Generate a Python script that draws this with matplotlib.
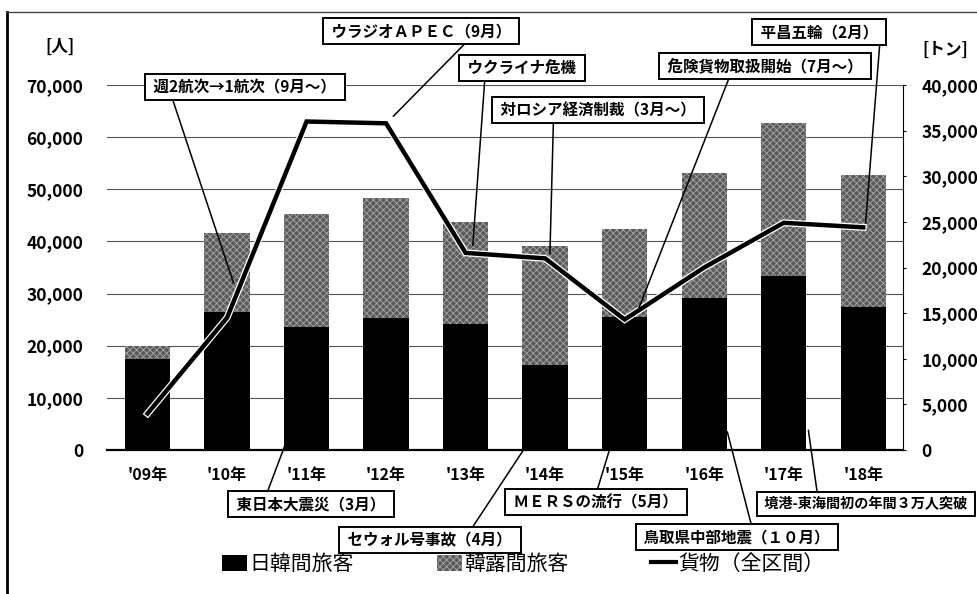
import matplotlib.pyplot as plt
import matplotlib.patheffects as pe
from matplotlib.patches import Patch
from matplotlib.lines import Line2D
from matplotlib.ticker import FuncFormatter

plt.rcParams['font.family'] = ['Noto Sans CJK JP', 'DejaVu Sans']
plt.rcParams['font.weight'] = 'bold'
plt.rcParams['hatch.linewidth'] = 0.6

years = ["'09年", "'10年", "'11年", "'12年", "'13年",
         "'14年", "'15年", "'16年", "'17年", "'18年"]
# 日韓間旅客 / 韓露間旅客 [人]
jk_pax = [17500, 26500, 23500, 25400, 24200, 16300, 25500, 29200, 33300, 27500]
kr_pax = [2500, 15200, 21800, 23000, 19600, 22900, 16800, 23900, 29500, 25200]
# 貨物（全区間） [トン]
cargo = [4000, 14500, 36000, 35800, 21600, 21000, 14300, 20000, 24900, 24400]

# callouts: text, box centre (px), leader start on box, leader end (year idx, 人), font size
events = [
    ("週2航次→1航次（9月～）", (245, 87), (0.11, 0), (1.08, 32100), 11.2),
    ("ウラジオＡＰＥＣ（9月）", (421, 31), (0.76, 0), (3.09, 64000), 11.2),
    ("ウクライナ危機", (522, 68), (0.18, 0), (4.09, 39200), 11.2),
    ("対ロシア経済制裁（3月～）", (598, 110), (0.28, 0), (5.06, 37700), 11.2),
    ("危険貨物取扱開始（7月～）", (765, 66), (0.33, 0), (6.17, 26900), 11.2),
    ("平昌五輪（2月）", (819, 32), (0.99, 0), (9.03, 43600), 11.2),
    ("東日本大震災（3月）", (311, 504), (0.21, 1), (1.73, 1000), 11.2),
    ("セウォル号事故（4月）", (430, 540), (0.73, 1), (4.77, 1000), 11.2),
    ("ＭＥＲＳの流行（5月）", (596, 502), (0.5, 1), (5.82, 600), 11.2),
    ("鳥取県中部地震（１０月）", (737, 537), (0.58, 1), (7.29, 3500), 11.2),
    ("境港-東海間初の年間３万人突破", (866, 504), (0.27, 1), (8.31, 3800), 10.2),
]

W, H = 978, 594
fig = plt.figure(figsize=(W / 100, H / 100), dpi=100)
ax = fig.add_axes([107 / W, 1 - 450 / H, 796 / W, 365 / H])
ax2 = ax.twinx()

GRAY, SPECK = '#5a5a5a', '#a8a8a8'
x = list(range(len(years)))
ax.bar(x, jk_pax, width=0.57, color='black', zorder=2)
ax.bar(x, kr_pax, width=0.57, bottom=jk_pax, zorder=2,
       color=GRAY, edgecolor=SPECK, hatch='xxxxx', linewidth=0)

ax2.plot(x, cargo, color='black', lw=3.2, solid_joinstyle='miter', zorder=3,
         path_effects=[pe.Stroke(linewidth=5, foreground='white'), pe.Normal()])

ax.set_xlim(-0.51, 9.5)
ax.set_ylim(0, 70000)
ax.set_yticks(range(0, 70001, 10000))
ax2.set_ylim(0, 40000)
ax2.set_yticks(range(0, 40001, 5000))
fmt = FuncFormatter(lambda v, p: f"{int(v):,}")
ax.yaxis.set_major_formatter(fmt)
ax2.yaxis.set_major_formatter(fmt)
ax.set_xticks(x)
ax.set_xticklabels(years)

ax.yaxis.grid(True, color='#555555', lw=0.8)
ax.set_axisbelow(True)
ax.tick_params(axis='y', length=0, pad=17, labelsize=12.5)
ax.tick_params(axis='x', length=0, pad=12, labelsize=11.5)
ax2.tick_params(axis='y', length=2.5, width=0.8, pad=11, labelsize=12.5)

for a in (ax, ax2):
    a.spines['top'].set_visible(False)
    a.spines['left'].set_visible(False)
ax.spines['right'].set_visible(False)
ax2.spines['bottom'].set_visible(False)
ax.spines['bottom'].set_linewidth(1.6)
ax2.spines['right'].set_linewidth(0.8)

fig.text(60 / W, 1 - 47 / H, "[人]", ha='center', va='center', fontsize=12)
fig.text(945 / W, 1 - 50 / H, "[トン]", ha='center', va='center', fontsize=12)

for text, (px, py), rel, (tx, ty), fs in events:
    ax2.annotate(" " + text + " ", xy=(tx, ty), xycoords=ax.transData,
                 xytext=(px / W, 1 - py / H), textcoords='figure fraction',
                 ha='center', va='center', fontsize=fs, zorder=5,
                 bbox=dict(boxstyle='square,pad=0.32', fc='white', ec='black', lw=1.4),
                 arrowprops=dict(arrowstyle='-', color='black', lw=1.1,
                                 relpos=rel, shrinkA=0, shrinkB=0))

# outer frame of the scanned page
fig.add_artist(Line2D([7 / W, 7 / W], [0, 1 - 12 / H], transform=fig.transFigure,
                      color='black', lw=2))
fig.add_artist(Line2D([7 / W, 1], [1 - 12 / H, 1 - 12 / H], transform=fig.transFigure,
                      color='#444444', lw=1))

handles = [Patch(facecolor='black'),
           Patch(facecolor=GRAY, edgecolor=SPECK, hatch='xxxxx', linewidth=0),
           Line2D([], [], color='black', lw=3)]
labels = ["日韓間旅客", "韓露間旅客", "貨物（全区間）"]
fig.legend(handles, labels, loc='center', bbox_to_anchor=(0.535, 1 - 564 / H), ncol=3,
           frameon=False, prop={'size': 15, 'weight': 'normal'}, handlelength=1.2,
           handleheight=0.8, handletextpad=0.1, columnspacing=4.0)

fig.savefig('out.png', dpi=100)
